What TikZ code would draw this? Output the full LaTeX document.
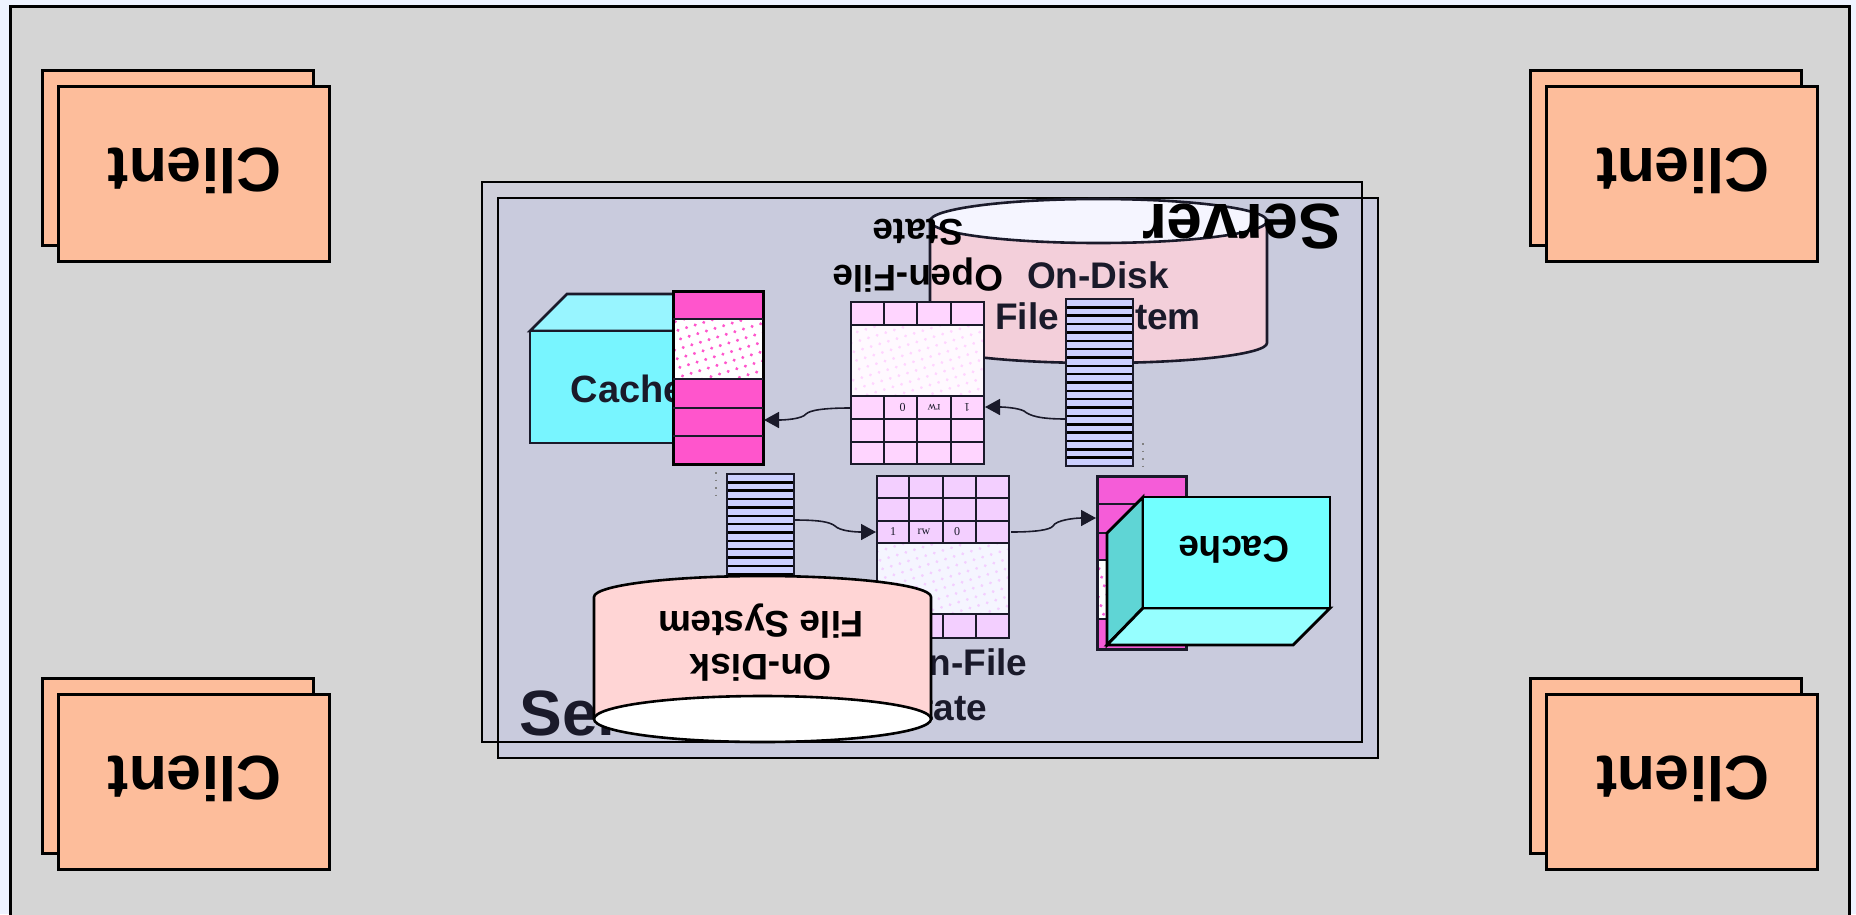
\documentclass[tikz,border=0pt]{standalone}
\usepackage{fontspec}
\setmainfont{Liberation Sans}
\newfontfamily\cellfont{Liberation Serif}
\usetikzlibrary{positioning, calc, arrows.meta, patterns.meta}

\definecolor{pageblue}{HTML}{EEF3FF}
\definecolor{lan}{HTML}{D5D5D5}
\definecolor{clientfill}{HTML}{FDBD9B}
\definecolor{serverback}{HTML}{CFCFDA}
\definecolor{serverfront}{HTML}{C9CBDD}
\definecolor{ink}{HTML}{1A1A2A}
\definecolor{diskback}{HTML}{F3CFDA}
\definecolor{disklid}{HTML}{F5F5FF}
\definecolor{diskfront}{HTML}{FFD5D5}
\definecolor{stackblue}{HTML}{CCD0FF}
\definecolor{bufpink}{HTML}{FF55CC}
\definecolor{bufpinkb}{HTML}{F55CD8}
\definecolor{tabpink}{HTML}{FFD5FF}
\definecolor{tablilac}{HTML}{F3CFFF}
\definecolor{cacheface}{HTML}{78F5FF}
\definecolor{cachetop}{HTML}{98F5FF}
\definecolor{cachefaceb}{HTML}{72FFFF}
\definecolor{cachetopb}{HTML}{96FFFF}
\definecolor{cacheside}{HTML}{5FD5D5}

\tikzset{
  clientbox/.style={draw=black, line width=2.6pt, fill=clientfill, minimum width=271pt, minimum height=175pt, inner sep=0pt},
  clienttext/.style={font=\fontsize{62.5}{70}\selectfont\bfseries, text=black, rotate=180, inner sep=0pt},
  labeltext/.style={font=\fontsize{37}{40}\selectfont\bfseries, text=ink, inner sep=0pt},
  flippedtext/.style={font=\fontsize{37}{40}\selectfont\bfseries, text=black, rotate=180, inner sep=0pt},
  servertext/.style={font=\fontsize{64}{70}\selectfont\bfseries, inner sep=0pt},
  celltext/.style={font=\cellfont\fontsize{12}{14}\selectfont, text=ink, inner sep=0pt},
  grid line/.style={draw=ink, line width=2.7pt},
  link/.style={draw=ink, line width=1.6pt, -{Triangle[length=15pt, width=16pt]}},
  gapdots/.style={draw=gray, line width=1.2pt, dash pattern=on 1.5pt off 6pt},
}

\begin{document}
\begin{tikzpicture}[x=1pt, y=-1pt]
\useasboundingbox (0,0) rectangle (1856,914);

% ---- 1. page and network area ----
\fill[pageblue] (0,0) rectangle (1856,914);
\draw[draw=black, line width=3pt, fill=lan] (10.5,6) rectangle (1849,930);

% ---- 2. clients, each one a pair of sheets ----
\foreach \cx/\cy/\cname in {194/174/TL, 1682/174/TR, 194/782/BL, 1682/782/BR}{
  \node[clientbox] (back\cname) at (\cx-16,\cy-16) {};
  \node[clientbox] (client\cname) at (\cx,\cy) {};
  \node[clienttext] at (\cx+1,\cy-3) {Client};
}

% ---- 3. server boxes ----
\fill[serverback] (482,182) rectangle (1362,742);
\fill[serverfront] (498,198) rectangle (1378,758);
\draw[draw=black, line width=2.6pt] (482,182) rectangle (1362,742);
\draw[draw=black, line width=2.6pt] (498,198) rectangle (1378,758);

% ---- 4. disk at the back ----
\draw[ink, line width=2.6pt, fill=diskback]
  (930,220) -- (930,343) arc (180:0:168.5 and 20) -- (1267,220) -- cycle;
\draw[ink, line width=2.6pt, fill=disklid] (1098.5,221) ellipse (168.5 and 22);
\node[labeltext] (diskUpA) at (1098,275) {On-Disk};
\node[labeltext] (diskUpB) at (1098,320) {File System};

% ---- 5. first cache block ----
\draw[ink, line width=2.6pt, fill=cachetop] (530,331) -- (567,294) -- (754,294) -- (717,331) -- cycle;
\draw[ink, line width=2.6pt, fill=cacheface] (530,331) rectangle (717,443);
\node[font=\fontsize{38}{44}\selectfont\bfseries, text=ink, inner sep=0pt] (cacheUp) at (628,389) {Cache};

% ---- 6. flipped labels of the back layer ----
\node[servertext, text=black, rotate=180] (serverFlip) at (1242,227) {Server};
\node[flippedtext] (openA) at (918,275) {Open-File};
\node[flippedtext] (openB) at (918,232) {State};

% ---- 7. first pink buffer ----
\fill[bufpink] (673,291) rectangle (763,464);
\fill[white] (673,319) rectangle (763,379);
\fill[pattern={Dots[distance=9pt, angle=17, radius=1.7pt]}, pattern color=bufpink] (673,319) rectangle (763,379);
\draw[black, line width=3pt] (673,291) rectangle (763,464);
\foreach \ry in {319,379,408,436}
  \draw[ink, line width=2.7pt] (673,\ry) -- (763,\ry);
\coordinate (bufUpIn) at (764,420);

% ---- 8. open-file table, back layer ----
\fill[tabpink] (851,302) rectangle (984,464);
\fill[white!85!tabpink] (851,325) rectangle (984,396);
\fill[pattern={Dots[distance=9pt, angle=17, radius=1.6pt]}, pattern color=tabpink] (851,325) rectangle (984,396);
\foreach \rx in {884,917,951}{
  \draw[grid line] (\rx,302) -- (\rx,325);
  \draw[grid line] (\rx,396) -- (\rx,464);
}
\foreach \ry in {325,396,419,442}
  \draw[grid line] (851,\ry) -- (984,\ry);
\draw[grid line] (851,302) rectangle (984,464);
\node[celltext, rotate=180] (cellA) at (902.5,407) {0};
\node[celltext, rotate=180] (cellB) at (934,407) {rw};
\node[celltext, rotate=180] (cellC) at (967,407) {1};
\coordinate (tabUpOut) at (850,408);
\coordinate (tabUpIn) at (985,407);

% ---- 9. blue stacks ----
\foreach \sx/\sy in {1066/299, 727/474}{
  \fill[stackblue] (\sx,\sy) rectangle (\sx+67,\sy+167);
  \foreach \i in {1,...,19}
    \draw[black, line width=2.5pt] (\sx,\sy+\i*8.35) -- (\sx+67,\sy+\i*8.35);
  \draw[ink, line width=2.8pt] (\sx,\sy) rectangle (\sx+67,\sy+167);
}
\coordinate (stackUpOut) at (1066,419);
\coordinate (stackDnOut) at (794,520);
\draw[gapdots] (1143,443) -- (1143,469);
\draw[gapdots] (716,472) -- (716,497);

% ---- 10. open-file table, front layer ----
\fill[tablilac] (877,476) rectangle (1009,638);
\fill[disklid] (877,543) rectangle (1009,614);
\fill[pattern={Dots[distance=9pt, angle=17, radius=1.6pt]}, pattern color=tablilac] (877,543) rectangle (1009,614);
\foreach \rx in {909,943,976}{
  \draw[grid line] (\rx,476) -- (\rx,543);
  \draw[grid line] (\rx,614) -- (\rx,638);
}
\foreach \ry in {498,521,543,614}
  \draw[grid line] (877,\ry) -- (1009,\ry);
\draw[grid line] (877,476) rectangle (1009,638);
\node[celltext] (cellD) at (893,532) {1};
\node[celltext] (cellE) at (924,532) {rw};
\node[celltext] (cellF) at (957,532) {0};
\coordinate (tabDnIn) at (876,532);
\coordinate (tabDnOut) at (1011,532);
\node[labeltext] (fileA) at (942,666) {Open-File};
\node[labeltext] (fileB) at (942,708) {State};

% ---- 11. second pink buffer ----
\fill[bufpinkb] (1097,476) rectangle (1186,649);
\fill[white] (1097,560) rectangle (1186,619);
\fill[pattern={Dots[distance=9pt, angle=17, radius=1.7pt]}, pattern color=bufpinkb] (1097,560) rectangle (1186,619);
\foreach \ry in {504,533,560,619}
  \draw[ink, line width=2.7pt] (1097,\ry) -- (1186,\ry);
\draw[ink, line width=3pt] (1097,476) rectangle (1186,649);
\coordinate (bufDnIn) at (1096,518);

% ---- 12. second cache block ----
\draw[black, line width=2.8pt, fill=cacheside] (1143,497) -- (1107,533) -- (1107,645) -- (1143,608) -- cycle;
\draw[black, line width=2.8pt, fill=cachetopb] (1143,608) -- (1330,608) -- (1293,645) -- (1107,645) -- cycle;
\draw[black, line width=2.8pt, fill=cachefaceb] (1143,497) rectangle (1330,608);
\node[font=\fontsize{37}{40}\selectfont\bfseries, text=black, rotate=180, inner sep=0pt] (cacheDn) at (1234,550) {Cache};

% ---- 13. server label and disk in front ----
\node[servertext, text=ink] (serverUp) at (619,713) {Server};
\draw[black, line width=2.6pt, fill=diskfront]
  (594,718) -- (594,597) arc (180:360:168.5 and 21) -- (931,718) -- cycle;
\draw[black, line width=2.6pt, fill=white] (762.5,719) ellipse (168.5 and 23);
\node[flippedtext] (diskDnA) at (761,668) {On-Disk};
\node[flippedtext] (diskDnB) at (761,621) {File System};

% ---- 14. links between the layers ----
\draw[link] (stackUpOut) .. controls (1040,419) and (1030,416) .. (1024,411)
  .. controls (1018,408) and (1005,407) .. (tabUpIn);
\draw[link] (tabUpOut) .. controls (825,408) and (810,410) .. (806,414)
  .. controls (802,419) and (785,420) .. (bufUpIn);
\draw[link] (stackDnOut) .. controls (820,520) and (830,522) .. (835,526)
  .. controls (840,531) and (855,532) .. (tabDnIn);
\draw[link] (tabDnOut) .. controls (1035,532) and (1050,530) .. (1053,526)
  .. controls (1056,520) and (1075,518) .. (bufDnIn);

\end{tikzpicture}
\end{document}
